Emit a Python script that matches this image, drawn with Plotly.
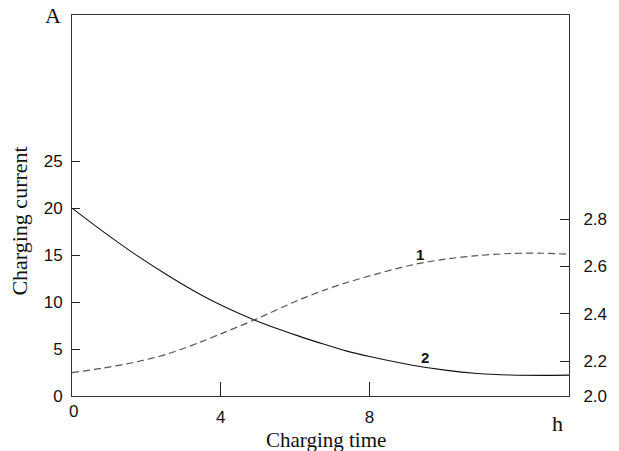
import plotly.graph_objects as go

# Curve 2: charging current (A), left axis
time_current = [0, 0.82, 1.69, 2.57, 3.45, 4.0, 4.9, 6.08, 6.78, 7.39, 8.0, 9.15, 10.03, 10.9, 11.78, 12.66, 13.36]
current = [20.0, 17.55, 15.1, 12.85, 10.8, 9.68, 8.1, 6.4, 5.5, 4.78, 4.2, 3.28, 2.75, 2.4, 2.24, 2.2, 2.22]

# Curve 1: voltage (V), right axis
time_voltage = [0, 0.82, 1.69, 2.57, 3.45, 4.0, 4.9, 6.08, 6.78, 7.39, 8.27, 9.15, 10.03, 10.9, 11.78, 12.66, 13.36]
voltage = [2.151, 2.170, 2.195, 2.230, 2.280, 2.315, 2.374, 2.457, 2.500, 2.532, 2.572, 2.607, 2.631, 2.646, 2.655, 2.656, 2.652]

x_ticks = [0, 4, 8]
x_tick_labels = ["0", "4", "8"]
left_ticks = [0, 5, 10, 15, 20, 25]
right_ticks = [2.052, 2.2, 2.4, 2.6, 2.8]
right_tick_labels = ["2.0", "2.2", "2.4", "2.6", "2.8"]

X_RANGE = [0, 13.36]
Y_RANGE = [0, 40.56]
Y2_RANGE = [2.052, 3.664]

W, H = 619, 451
L, R, T, B = 72.3, 579.5, 15, 396.3


def px(x):
    return (x - L) / (R - L)


def py(y):
    return (B - y) / (B - T)


fig = go.Figure()
fig.add_trace(go.Scatter(x=time_current, y=current, mode="lines",
                         line=dict(color="#111", width=1.1, shape="spline", smoothing=0.8),
                         yaxis="y", showlegend=False, hoverinfo="skip"))
fig.add_trace(go.Scatter(x=time_voltage, y=voltage, mode="lines",
                         line=dict(color="#555", width=1.2, dash="7px,4px", shape="spline", smoothing=0.8),
                         yaxis="y2", showlegend=False, hoverinfo="skip"))

sans = "Liberation Sans, Arial, sans-serif"
serif = "Liberation Serif, Times New Roman, serif"

fig.update_layout(
    width=W, height=H,
    margin=dict(l=L, r=W - R, t=T, b=H - B, pad=0),
    paper_bgcolor="white", plot_bgcolor="white",
    showlegend=False,
    xaxis=dict(range=X_RANGE, tickvals=x_ticks[1:], ticktext=x_tick_labels[1:], ticks="inside", ticklen=14,
               tickcolor="#222", showgrid=False, zeroline=False, showline=True, linecolor="#333", linewidth=1,
               mirror=True, tickfont=dict(family=sans, size=17, color="#111"), ticklabelstandoff=6),
    yaxis=dict(range=Y_RANGE, tickvals=left_ticks, ticks="inside", ticklen=8, tickcolor="#222",
               showgrid=False, zeroline=False, showline=True, linecolor="#333", linewidth=1,
               tickfont=dict(family=sans, size=17, color="#111"), ticklabelstandoff=5),
    yaxis2=dict(range=Y2_RANGE, tickvals=right_ticks, ticktext=right_tick_labels, overlaying="y", side="right",
                ticks="inside", ticklen=9, tickcolor="#222", showgrid=False, zeroline=False, showline=True,
                linecolor="#333", linewidth=1, tickfont=dict(family=sans, size=17, color="#111"),
                ticklabelstandoff=10),
)

ann = [
    dict(text=x_tick_labels[0], x=px(73.5), y=py(412), font=dict(family=sans, size=17, color="#111")),
    dict(text="A", x=px(53), y=py(15), font=dict(family=serif, size=22, color="#111")),
    dict(text="h", x=px(568), y=py(424), font=dict(family=serif, size=22, color="#111")),
    dict(text="Charging time", x=px(332), y=py(440), font=dict(family=serif, size=21, color="#111")),
    dict(text="Charging current", x=px(19), y=py(221), textangle=-90, font=dict(family=serif, size=22, color="#111")),
    dict(text="<b>1</b>", x=px(427), y=py(255), font=dict(family=sans, size=15, color="#111")),
    dict(text="<b>2</b>", x=px(433), y=py(357.5), font=dict(family=sans, size=15, color="#111")),
]
for a in ann:
    fig.add_annotation(xref="paper", yref="paper", showarrow=False, xanchor="center", yanchor="middle", **a)

fig.write_html("out.html", config={"displayModeBar": False})

# remove the browser's default 8px body margin so the figure sits at the page origin
with open("out.html", "r", encoding="utf-8") as f:
    html = f.read()
html = html.replace("<body>", '<body style="margin:0;padding:0;overflow:hidden">', 1)
with open("out.html", "w", encoding="utf-8") as f:
    f.write(html)
